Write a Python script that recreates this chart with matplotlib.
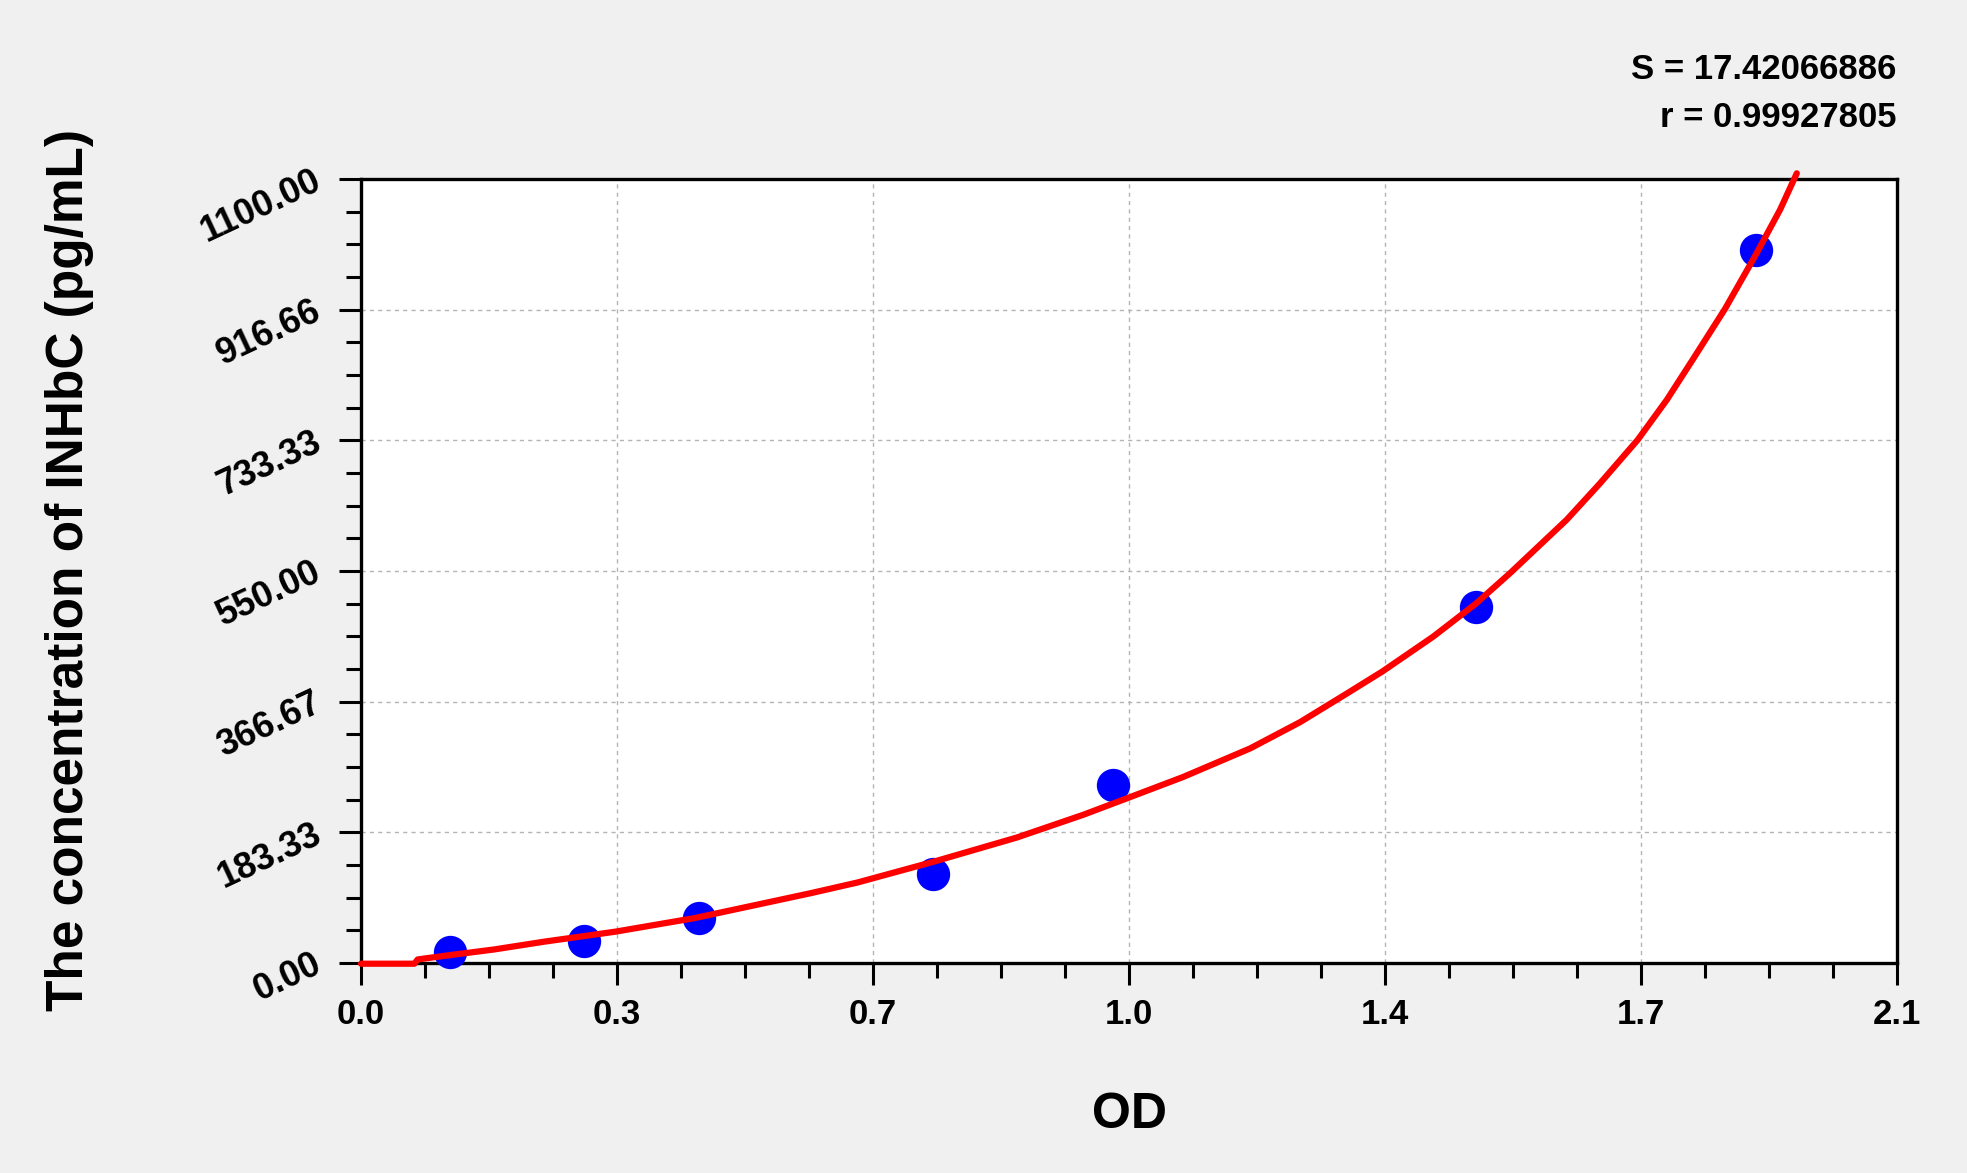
import numpy as np
import matplotlib
matplotlib.use("Agg")
import matplotlib.pyplot as plt
from matplotlib.ticker import FixedLocator, MultipleLocator

plt.rcParams['font.family'] = ['Liberation Sans', 'DejaVu Sans']
plt.rcParams['font.weight'] = 'bold'

# data (standards)
od = [0.121, 0.305, 0.462, 0.782, 1.028, 1.524, 1.907]
conc = [15.625, 31.25, 62.5, 125.0, 250.0, 500.0, 1000.0]

# fitted standard curve
curve_x = [0.0, 0.073, 0.0775, 0.121, 0.182, 0.251, 0.348, 0.456, 0.547, 0.615,
           0.679, 0.7825, 0.8965, 0.9876, 1.047, 1.124, 1.2155, 1.284, 1.3477,
           1.3964, 1.466, 1.524, 1.571, 1.6485, 1.694, 1.7455, 1.7852, 1.8216,
           1.865, 1.906, 1.9402, 1.963]
curve_y = [-1, -1, 5, 11, 19, 30, 44, 63, 83, 98,
           113, 142, 176, 208, 231, 261, 301, 338, 378,
           409, 458, 504, 547, 622, 673, 734, 790, 848,
           918, 992, 1057, 1108]

xticks = [0.0, 0.35, 0.7, 1.05, 1.4, 1.75, 2.1]
xticklabels = ["0.0", "0.3", "0.7", "1.0", "1.4", "1.7", "2.1"]
yticks = [0.0, 183.33, 366.67, 550.0, 733.33, 916.66, 1100.0]
yticklabels = ["0.00", "183.33", "366.67", "550.00", "733.33", "916.66", "1100.00"]

S_text = "S = 17.42066886"
r_text = "r = 0.99927805"

W, H = 1967, 1173
fig = plt.figure(figsize=(W/100, H/100), dpi=100, facecolor='#f0f0f0')
ax = fig.add_axes([361/W, 1-963/H, (1897-361)/W, (963-179)/H])
ax.set_facecolor('white')

ax.plot(od, conc, 'o', color='#0000ff', markersize=24, markeredgewidth=0, zorder=3, clip_on=False)
ax.plot(curve_x, curve_y, color='#ff0000', lw=4.5, zorder=4, clip_on=False,
        solid_capstyle='round', solid_joinstyle='round')

ax.set_xlim(0, 2.1)
ax.set_ylim(0, 1100)
ax.xaxis.set_major_locator(FixedLocator(xticks))
ax.set_xticklabels(xticklabels)
ax.xaxis.set_minor_locator(MultipleLocator(0.0875))
ax.yaxis.set_major_locator(FixedLocator(yticks))
ax.set_yticklabels(yticklabels)
ax.yaxis.set_minor_locator(MultipleLocator(1100/24))

ax.grid(True, which='major', color='#b4b4b4', linestyle=(0, (3, 3)), linewidth=1.0)
for s in ax.spines.values():
    s.set_linewidth(2.4)
    s.set_color('black')

ax.tick_params(axis='both', which='major', length=16, width=2.2, direction='out')
ax.tick_params(axis='both', which='minor', length=11, width=2.2, direction='out')
ax.tick_params(axis='x', which='major', pad=9, labelsize=25)
ax.tick_params(axis='y', which='major', pad=14, labelsize=26)
for lab in ax.get_yticklabels():
    lab.set_rotation(25)
    lab.set_rotation_mode('anchor')
    lab.set_ha('right')
    lab.set_va('center')
for lab in ax.get_xticklabels() + ax.get_yticklabels():
    lab.set_fontweight('bold')

fig.text(70/W, 1-570/H, "The concentration of INHbC (pg/mL)", rotation=90,
         ha='center', va='center', fontsize=37, fontweight='bold')
fig.text(1129/W, 1-1114.6/H, "OD", ha='center', va='center', fontsize=36, fontweight='bold')
fig.text(1896/W, 1-79/H, S_text, ha='right', va='baseline', fontsize=25, fontweight='bold')
fig.text(1896/W, 1-126.7/H, r_text, ha='right', va='baseline', fontsize=25, fontweight='bold')

fig.savefig("out.png", dpi=100, facecolor=fig.get_facecolor())
